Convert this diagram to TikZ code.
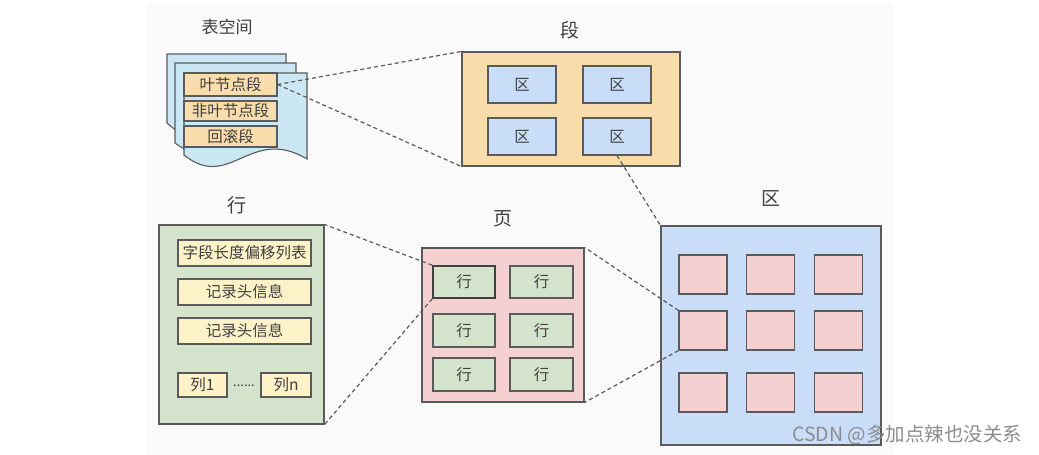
\documentclass[tikz,border=0pt]{standalone}
\usepackage{fontspec}
\setmainfont{Noto Sans CJK SC}
\definecolor{panelbg}{HTML}{FAFAFA}
\definecolor{edge}{HTML}{5A5A5A}
\definecolor{sheetc}{HTML}{CBE7F3}
\definecolor{orangec}{HTML}{F9DCAC}
\definecolor{bluec}{HTML}{C9DCF8}
\definecolor{pinkc}{HTML}{F4D0D1}
\definecolor{greenc}{HTML}{D4E3CB}
\definecolor{yellowc}{HTML}{FDF2C8}
\definecolor{txt}{HTML}{404040}
\tikzset{
  box/.style={draw=edge, line width=1.1pt, inner sep=0pt, text=txt, font=\fontsize{15.5}{17}\selectfont, rectangle},
  title/.style={text=txt, font=\fontsize{19}{21}\selectfont, inner sep=0pt},
  link/.style={draw=edge, line width=1.2pt, dash pattern=on 4pt off 3pt},
  sheet/.style={draw=edge, line width=1.1pt, fill=sheetc},
}
\begin{document}
\begin{tikzpicture}[x=1pt,y=-1pt]
\useasboundingbox (0,0) rectangle (1039,455);
\fill[panelbg] (147,3) rectangle (893,455);
% tablespace
\node[title, font=\fontsize{17}{19}\selectfont] (tts) at (227,27) {表空间};
\draw[sheet] (167,123) -- (167,54) -- (286,54) -- (286,140) .. controls (240,120) and (220,170) .. (167,123) -- cycle;
\draw[sheet] (175,143) -- (175,63) -- (296,63) -- (296,150) .. controls (245,130) and (225,180) .. (175,143) -- cycle;
\draw[sheet] (184,155) -- (184,73) -- (307,73) -- (307,159) .. controls (250,125) and (230,192) .. (184,155) -- cycle;
\node[box, fill=orangec, minimum width=93pt, minimum height=23pt] (leaf) at (230.5,84.5) {叶节点段};
\node[box, fill=orangec, minimum width=93pt, minimum height=20pt] (nonleaf) at (230.5,111) {非叶节点段};
\node[box, fill=orangec, minimum width=93pt, minimum height=21pt] (undo) at (230.5,136.5) {回滚段};
% segment
\node[title] (tseg) at (570,30) {段};
\node[box, fill=orangec, minimum width=218pt, minimum height=114pt] (seg) at (571,109) {};
\foreach \n/\x/\y in {e1/522/84.5, e2/617/84.5, e3/522/136.5, e4/617/136.5}
  \node[box, fill=bluec, minimum width=68pt, minimum height=37pt] (\n) at (\x,\y) {区};
% extent
\node[title] (text) at (771,199) {区};
\node[box, fill=bluec, minimum width=220pt, minimum height=219pt] (ext) at (771,335.5) {};
\foreach \r/\y in {1/274.5, 2/330.5, 3/392.5}
  \foreach \c/\x in {1/703, 2/770.5, 3/838.5}
    \node[box, fill=pinkc, minimum width=48pt, minimum height=39pt] (p\r\c) at (\x,\y) {};
% page
\node[title] (tpage) at (503,219) {页};
\node[box, fill=pinkc, minimum width=162pt, minimum height=154pt] (page) at (503,325) {};
\node[box, fill=greenc, line width=1.6pt, draw=black!75, minimum width=62pt, minimum height=32pt] (r11) at (464,282) {行};
\node[box, fill=greenc, minimum width=63pt, minimum height=32pt] (r12) at (541.5,282) {行};
\node[box, fill=greenc, minimum width=62pt, minimum height=33pt] (r21) at (464,330.5) {行};
\node[box, fill=greenc, minimum width=63pt, minimum height=33pt] (r22) at (541.5,330.5) {行};
\node[box, fill=greenc, minimum width=62pt, minimum height=33pt] (r31) at (464,374.5) {行};
\node[box, fill=greenc, minimum width=63pt, minimum height=33pt] (r32) at (541.5,374.5) {行};
% row
\node[title] (trow) at (237,205) {行};
\node[box, fill=greenc, minimum width=165pt, minimum height=199pt] (row) at (241.5,324.5) {};
\node[box, fill=yellowc, minimum width=133pt, minimum height=26pt] (y1) at (244.5,253) {字段长度偏移列表};
\node[box, fill=yellowc, minimum width=133pt, minimum height=26pt] (y2) at (244.5,292) {记录头信息};
\node[box, fill=yellowc, minimum width=133pt, minimum height=26pt] (y3) at (244.5,331) {记录头信息};
\node[box, fill=yellowc, minimum width=49pt, minimum height=24pt] (c1) at (202.5,385) {列1};
\node[box, fill=yellowc, minimum width=50pt, minimum height=24pt] (cn) at (286,385) {列n};
\node[text=txt, inner sep=0pt, font=\fontsize{13}{15}\selectfont] (dots) at (244,386) {......};
% connectors
\draw[link] (leaf.east) -- (seg.north west);
\draw[link] (leaf.east) -- (seg.south west);
\draw[link] (e4.south) -- (ext.north west);
\draw[link] (p21.north west) -- (page.north east);
\draw[link] (p21.south west) -- (page.south east);
\draw[link] (r11.north west) -- (row.north east);
\draw[link] (r11.south west) -- (row.south east);
% watermark
\node[text=black!45, inner sep=0pt, anchor=west, font=\fontsize{19.5}{21}\selectfont] (wm) at (792,435) {CSDN @多加点辣也没关系};
\end{tikzpicture}
\end{document}
